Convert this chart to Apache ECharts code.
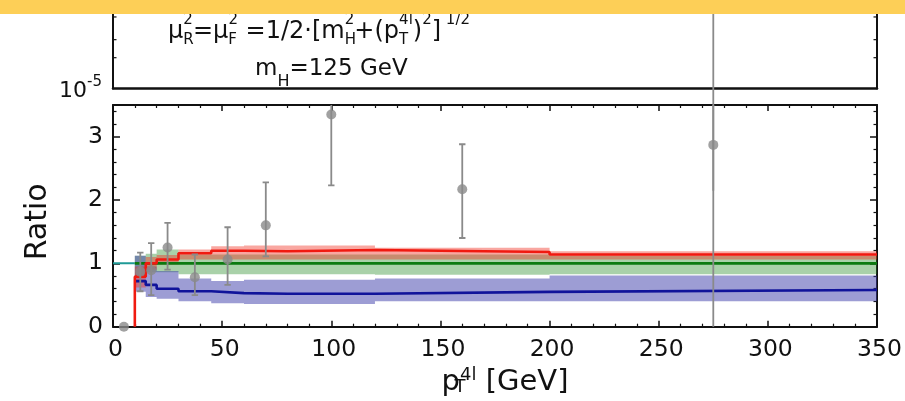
<!DOCTYPE html>
<html>
<head>
<meta charset="utf-8">
<script src="https://cdn.jsdelivr.net/npm/echarts@6/dist/echarts.min.js"></script>
<style>
  html, body { margin: 0; padding: 0; background: #fff; }
  #c { width: 905px; height: 401px; }
</style>
</head>
<body>
<div id="c"></div>
<script>
// ---- pT(4l) binning [GeV] ----
const binEdges = [10, 15, 20, 30, 45, 60, 80, 120, 200, 350];

// red prediction: central ratio and uncertainty band per bin
const redCentral = [0.79, 1.00, 1.06, 1.16, 1.20, 1.19, 1.21, 1.18, 1.14];
const redLow     = [0.62, 0.90, 0.98, 1.06, 1.06, 1.06, 1.06, 1.06, 1.06];
const redHigh    = [0.95, 1.10, 1.13, 1.22, 1.27, 1.28, 1.28, 1.245, 1.19];
const redStart   = 0;   // red curve rises from zero at the first edge

// green prediction (reference, ratio = 1)
const greenCentral = [1.00, 1.00, 1.00, 1.00, 1.00, 1.00, 1.00, 1.00, 1.00];
const greenLow     = [0.78, 0.86, 0.86, 0.83, 0.83, 0.83, 0.83, 0.82, 0.83];
const greenHigh    = [1.12, 1.15, 1.22, 1.14, 1.14, 1.14, 1.14, 1.14, 1.12];

// blue prediction
const blueCentral = [0.72, 0.66, 0.60, 0.56, 0.53, 0.52, 0.52, 0.55, 0.58];
const blueLow     = [0.55, 0.47, 0.44, 0.40, 0.37, 0.36, 0.36, 0.40, 0.40];
const blueHigh    = [1.12, 0.95, 0.88, 0.76, 0.72, 0.74, 0.74, 0.76, 0.81];

// unit reference line below the first bin edge
const unitLineX = [0, 10];
const unitLineY = 1;

// data / prediction ratio with error bars
const pointX  = [5, 12.5, 17.5, 25, 37.5, 52.5, 70, 100, 160, 275];
const pointY  = [0, 0.87, 0.89, 1.25, 0.78, 1.06, 1.60, 3.35, 2.17, 2.87];
const pointLo = [0, 0.56, 0.50, 0.90, 0.50, 0.66, 1.11, 2.23, 1.40, -1];
const pointHi = [0, 1.17, 1.32, 1.64, 1.14, 1.57, 2.28, 4.47, 2.88, 10];

// upper (distribution) panel: the last bin's error bar and the log-axis minor ticks
const upperX  = [275];
const upperLo = [1e-6];
const upperHi = [1e-3];
const upperMinorTicks = [2e-5, 3e-5, 5e-5];

// axis ranges
const X_MIN = 0, X_MAX = 350, X_STEP = 50;
const R_MIN = 0, R_MAX = 3.5, R_STEP = 1;
const U_MIN = 1e-5, U_MAX = 7e-5;

const FONT = 'DejaVu Sans';
const INK = '#111';
const GRAY = '#8a8a8a';

const chart = echarts.init(document.getElementById('c'), null, { renderer: 'canvas' });

function stepData(start, edges, vals) {
  const pts = [];
  if (start !== null) pts.push([edges[0], start]);
  vals.forEach((v, i) => pts.push([edges[i], v]));
  pts.push([edges[edges.length - 1], vals[vals.length - 1]]);
  return pts;
}

function bandSeries(lo, hi, color) {
  return {
    type: 'custom', xAxisIndex: 1, yAxisIndex: 2, silent: true, z: 2,
    data: [[binEdges[0], lo[0]]],
    renderItem: (params, api) => {
      const top = [], bot = [];
      for (let i = 0; i < lo.length; i++) {
        top.push(api.coord([binEdges[i], hi[i]]), api.coord([binEdges[i + 1], hi[i]]));
        bot.push(api.coord([binEdges[i], lo[i]]), api.coord([binEdges[i + 1], lo[i]]));
      }
      return { type: 'polygon', shape: { points: top.concat(bot.reverse()) }, style: { fill: color } };
    }
  };
}

function stepLine(start, vals, color) {
  return {
    type: 'line', xAxisIndex: 1, yAxisIndex: 2, step: 'end', symbol: 'none', silent: true, z: 3,
    data: stepData(start, binEdges, vals),
    lineStyle: { color: color, width: 2.6 }
  };
}

function errorBars(xs, lo, hi, xi, yi, clip, caps) {
  return {
    type: 'custom', xAxisIndex: xi, yAxisIndex: yi, clip: clip, silent: true, z: 5,
    data: xs.map((x, i) => [x, lo[i], hi[i]]),
    renderItem: (params, api) => {
      const l = api.value(1), h = api.value(2);
      if (!(h > l)) return null;
      const a = api.coord([api.value(0), l]);
      const b = api.coord([api.value(0), h]);
      const w = 3.2;
      const st = { stroke: GRAY, lineWidth: 1.8 };
      const children = [{ type: 'line', shape: { x1: a[0], y1: a[1], x2: b[0], y2: b[1] }, style: st }];
      if (caps) {
        children.push({ type: 'line', shape: { x1: a[0] - w, y1: a[1], x2: a[0] + w, y2: a[1] }, style: st });
        children.push({ type: 'line', shape: { x1: b[0] - w, y1: b[1], x2: b[0] + w, y2: b[1] }, style: st });
      }
      return { type: 'group', children: children };
    }
  };
}

const frameLine = { show: true, onZero: false, lineStyle: { color: INK, width: 2 } };

function ratioX(position, labels) {
  return {
    type: 'value', gridIndex: 1, position: position, min: X_MIN, max: X_MAX, interval: X_STEP,
    axisLine: frameLine,
    axisTick: { show: true, inside: true, length: 6, lineStyle: { color: INK, width: 1.5 } },
    minorTick: { show: true, splitNumber: 5, length: 3, lineStyle: { color: INK, width: 1.2 } },
    splitLine: { show: false }, minorSplitLine: { show: false },
    axisLabel: labels ? { show: true, margin: 11, fontFamily: FONT, fontSize: 23.5, color: INK, padding: [0, 0, 0, 5] } : { show: false },
    name: labels ? '{p|p}{sb|T}{sp|4l}{g| [GeV]}' : '',
    nameLocation: 'middle', nameGap: 26,
    nameTextStyle: {
      color: INK, fontFamily: FONT, padding: [0, 0, 0, 20],
      rich: {
        p:  { fontFamily: FONT, fontSize: 29, lineHeight: 30, verticalAlign: 'bottom', color: INK },
        g:  { fontFamily: FONT, fontSize: 29, lineHeight: 30, verticalAlign: 'bottom', color: INK },
        sb: { fontFamily: FONT, fontSize: 18, lineHeight: 18, verticalAlign: 'bottom', color: INK, width: 0.1 },
        sp: { fontFamily: FONT, fontSize: 18, lineHeight: 18, verticalAlign: 'top', color: INK }
      }
    }
  };
}

function ratioY(position, labels) {
  return {
    type: 'value', gridIndex: 1, position: position, min: R_MIN, max: R_MAX, interval: R_STEP,
    axisLine: frameLine,
    axisTick: { show: true, inside: true, length: 7, lineStyle: { color: INK, width: 1.5 } },
    minorTick: { show: true, splitNumber: 5, length: 3.5, lineStyle: { color: INK, width: 1.2 } },
    splitLine: { show: false }, minorSplitLine: { show: false },
    axisLabel: labels ? { show: true, margin: 10, fontFamily: FONT, fontSize: 23.5, color: INK,
      showMaxLabel: false } : { show: false },
    name: labels ? 'Ratio' : '',
    nameLocation: 'middle', nameGap: 60,
    nameTextStyle: { color: INK, fontFamily: FONT, fontSize: 30, padding: [0, 12, 0, 0] }
  };
}

function upperY(position, labels) {
  return {
    type: 'log', logBase: 10, gridIndex: 0, position: position, min: U_MIN, max: U_MAX,
    axisLine: { show: true, onZero: false, lineStyle: { color: INK, width: 2 } },
    axisTick: { show: false }, minorTick: { show: false },
    splitLine: { show: false },
    axisLabel: labels ? {
      show: true, margin: 11, showMinLabel: true, fontFamily: FONT, color: INK,
      formatter: v => {
        const e = Math.log10(v);
        if (Math.abs(e - Math.round(e)) > 1e-6) return '';
        return '{b|10}{s|' + Math.round(e) + '}';
      },
      rich: {
        b: { fontFamily: FONT, fontSize: 22, lineHeight: 28, verticalAlign: 'bottom', color: INK },
        s: { fontFamily: FONT, fontSize: 15, lineHeight: 15, verticalAlign: 'top', color: INK }
      }
    } : { show: false }
  };
}

const option = {
  animation: false,
  backgroundColor: '#fff',
  grid: [
    { left: 113, right: 28, top: 2, bottom: 401 - 88.5, outerBoundsMode: 'none', containLabel: false },
    { left: 113, right: 28, top: 105, bottom: 401 - 326.7, outerBoundsMode: 'none', containLabel: false }
  ],
  xAxis: [
    { type: 'value', gridIndex: 0, min: X_MIN, max: X_MAX, interval: X_STEP,
      axisLine: { show: true, onZero: false, lineStyle: { color: INK, width: 2.5 } },
      axisTick: { show: false }, axisLabel: { show: false }, splitLine: { show: false } },
    ratioX('bottom', true),
    ratioX('top', false)
  ],
  yAxis: [
    upperY('left', true),
    upperY('right', false),
    ratioY('left', true),
    ratioY('right', false)
  ],
  series: [
    bandSeries(greenLow, greenHigh, 'rgba(40,140,40,0.40)'),
    bandSeries(blueLow, blueHigh, 'rgba(60,60,170,0.50)'),
    bandSeries(redLow, redHigh, 'rgba(240,45,30,0.42)'),
    {
      type: 'line', xAxisIndex: 1, yAxisIndex: 2, symbol: 'none', silent: true, z: 3,
      data: unitLineX.map(x => [x, unitLineY]),
      lineStyle: { color: '#1f9a96', width: 2 }
    },
    stepLine(null, greenCentral, '#0b7a10'),
    stepLine(null, blueCentral, '#10139a'),
    stepLine(redStart, redCentral, '#f01a10'),
    errorBars(pointX, pointLo, pointHi, 1, 2, true, true),
    {
      type: 'scatter', xAxisIndex: 1, yAxisIndex: 2, clip: false, silent: true, z: 6,
      symbol: 'circle', symbolSize: 10,
      data: pointX.map((x, i) => [x, pointY[i]]),
      itemStyle: { color: GRAY }
    },
    errorBars(upperX, upperLo, upperHi, 0, 0, false, false),
    {
      // log-scale minor ticks on both frame sides of the upper panel
      type: 'custom', xAxisIndex: 0, yAxisIndex: 0, silent: true, z: 4,
      data: upperMinorTicks.map(v => [v]),
      renderItem: (params, api) => {
        const l = api.coord([X_MIN, api.value(0)]);
        const r = api.coord([X_MAX, api.value(0)]);
        const st = { stroke: INK, lineWidth: 1.2 };
        return {
          type: 'group', children: [
            { type: 'line', shape: { x1: l[0], y1: l[1], x2: l[0] + 3.5, y2: l[1] }, style: st },
            { type: 'line', shape: { x1: r[0], y1: r[1], x2: r[0] - 3.5, y2: r[1] }, style: st }
          ]
        };
      }
    }
  ],
  graphic: [
    {
      type: 'text', left: 168, top: 13, z: 50, silent: true,
      style: {
        text: '{t|μ}{sb|R}{sp|2}{t|=μ}{sb|F}{sp|2}{t| =1/2·[m}{sb|H}{sp|2}{t|+(p}{sb|T}{sp|4l}{t|)}{sp|2}{t|]}{sp| 1/2}',
        rich: {
          t:  { fontFamily: FONT, fontSize: 24, lineHeight: 26, verticalAlign: 'bottom', fill: INK },
          sb: { fontFamily: FONT, fontSize: 15, lineHeight: 15, verticalAlign: 'bottom', fill: INK, width: 0.1, padding: [0, 0, -4, 0] },
          sp: { fontFamily: FONT, fontSize: 15, lineHeight: 15, verticalAlign: 'top', fill: INK, padding: [-5, 0, 0, 0] }
        }
      }
    },
    {
      type: 'text', left: 255, top: 58, z: 50, silent: true,
      style: {
        text: '{t|m}{sb|H}{t|=125 GeV}',
        rich: {
          t:  { fontFamily: FONT, fontSize: 23, lineHeight: 26, verticalAlign: 'top', fill: INK },
          sb: { fontFamily: FONT, fontSize: 16, lineHeight: 16, verticalAlign: 'bottom', fill: INK, padding: [0, 0, -6, 0] }
        }
      }
    },
    {
      type: 'rect', z: 100, silent: true,
      shape: { x: 0, y: 0, width: 905, height: 14 },
      style: { fill: '#fdcf57' }
    }
  ]
};

chart.setOption(option);
</script>
</body>
</html>
